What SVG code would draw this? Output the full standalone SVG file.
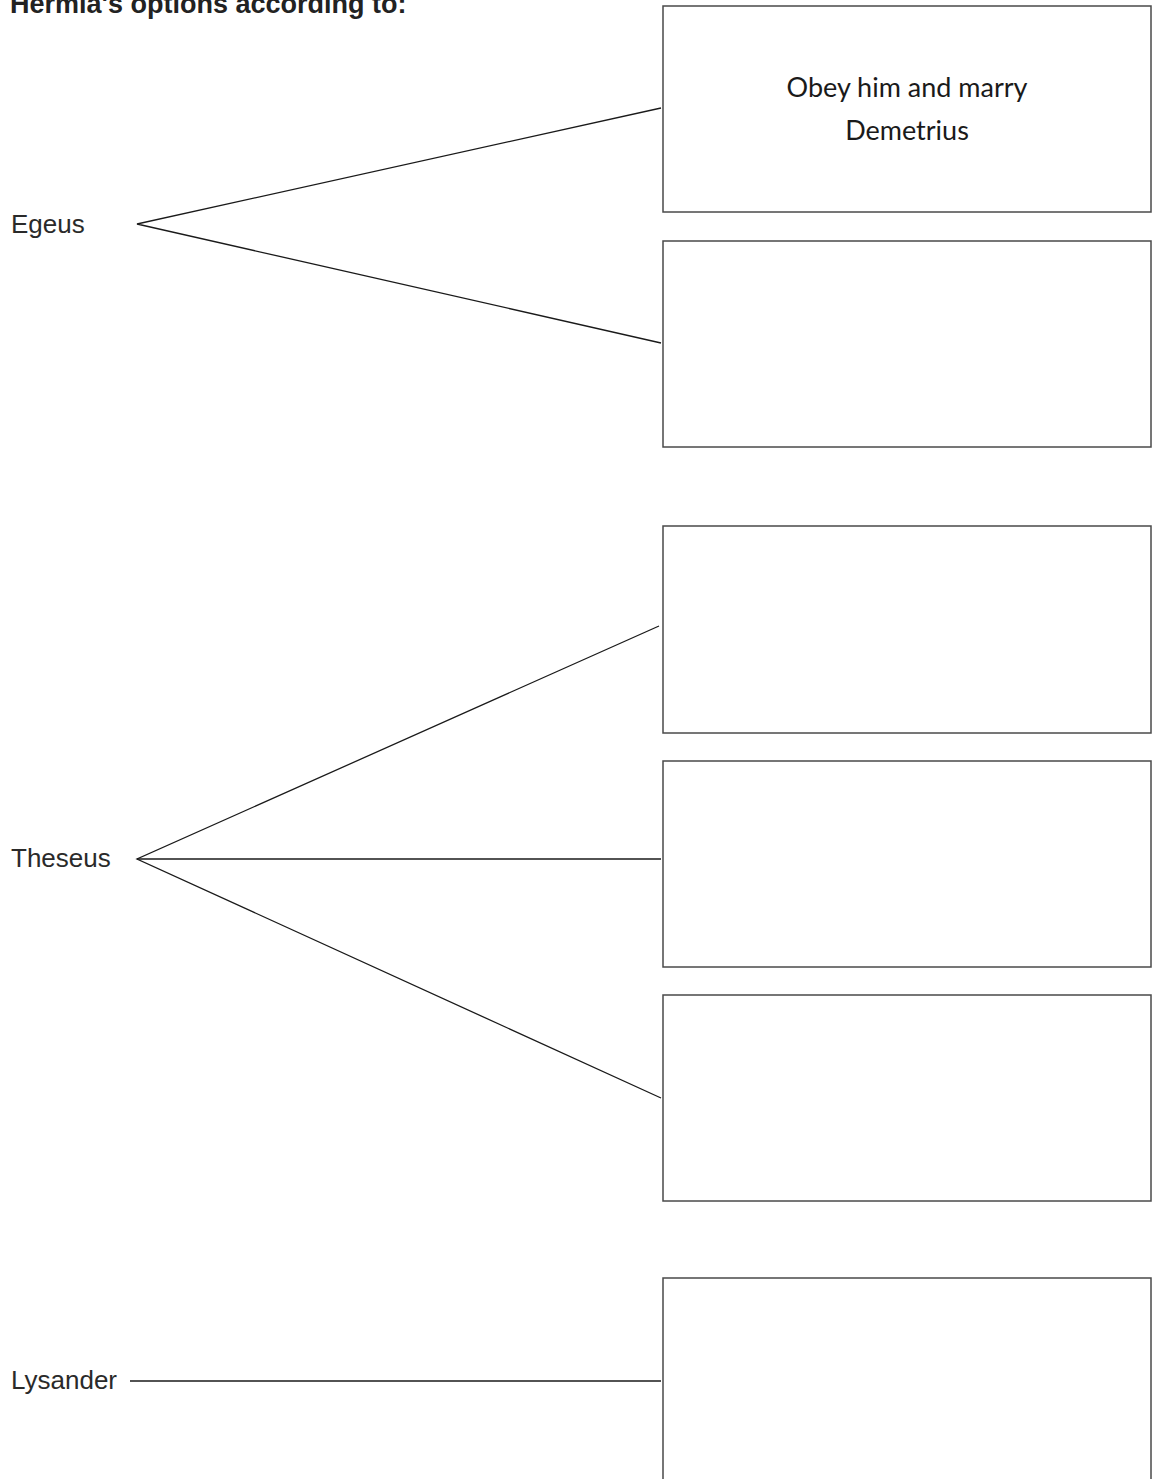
<svg xmlns="http://www.w3.org/2000/svg" width="1160" height="1479" viewBox="0 0 1160 1479">
<style>
.box{fill:#fff;stroke:#4a4a4a;stroke-width:1.5}
.ln{stroke:#1a1a1a;stroke-width:1.3;fill:none}
.lbl{font-family:"Liberation Sans",Arial,sans-serif;font-size:26px;fill:#2a2a2a}
.ttl{font-family:"Liberation Sans",Arial,sans-serif;font-size:27px;font-weight:bold;fill:#222}
.hand{font-family:Lato,"Liberation Sans",sans-serif;font-weight:400;font-size:27px;fill:#1a1a1a;text-anchor:middle}
</style>
<rect width="1160" height="1479" fill="#fff"/>
<text class="ttl" x="10" y="13">Hermia's options according to:</text>
<g id="connectors">
<polyline class="ln" points="661,108 137,224 661,343"/>
<polyline class="ln" points="659,626 137,859 661,1098"/>
<line class="ln" x1="137" y1="859" x2="661" y2="859"/>
<line class="ln" x1="130" y1="1381" x2="661" y2="1381"/>
</g>
<g id="egeus"><text class="lbl" x="11" y="233">Egeus</text></g>
<g id="theseus"><text class="lbl" x="11" y="867">Theseus</text></g>
<g id="lysander"><text class="lbl" x="11" y="1389">Lysander</text></g>
<g id="box1"><rect class="box" x="663" y="6" width="488" height="206"/>
<text class="hand" x="907" y="97">Obey him and marry</text>
<text class="hand" x="907" y="140">Demetrius</text></g>
<g id="box2"><rect class="box" x="663" y="241" width="488" height="206"/></g>
<g id="box3"><rect class="box" x="663" y="526" width="488" height="207"/></g>
<g id="box4"><rect class="box" x="663" y="761" width="488" height="206"/></g>
<g id="box5"><rect class="box" x="663" y="995" width="488" height="206"/></g>
<g id="box6"><rect class="box" x="663" y="1278" width="488" height="220"/></g>
</svg>
